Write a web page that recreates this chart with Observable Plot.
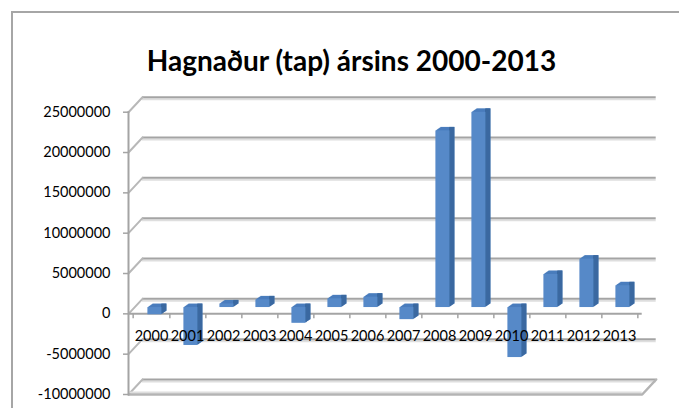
<!DOCTYPE html>
<html>
<head>
<meta charset="utf-8">
<script src="https://cdn.jsdelivr.net/npm/d3@7"></script>
<script src="https://cdn.jsdelivr.net/npm/@observablehq/plot@0.6"></script>
<style>
  html, body { margin: 0; padding: 0; background: #fff; overflow: hidden; }
  #wrap { position: relative; width: 679px; height: 408px; }
  #border { position: absolute; left: 11px; top: 11px; width: 700px; height: 430px; border: 2px solid #a6a6a6; box-sizing: border-box; }
  #chart { position: absolute; left: 0; top: 0; }
</style>
</head>
<body>
<div id="wrap"><div id="border"></div><div id="chart"></div></div>
<script>
const title = "Hagnaður (tap) ársins 2000-2013";
const years = ["2000","2001","2002","2003","2004","2005","2006","2007","2008","2009","2010","2011","2012","2013"];
const values = [-900000, -4700000, 450000, 950000, -1950000, 1080000, 1280000, -1500000, 21900000, 24200000, -6200000, 4100000, 6000000, 2700000];
const yTicks = [-10000000, -5000000, 0, 5000000, 10000000, 15000000, 20000000, 25000000];

const data = years.map((year, i) => ({year, value: values[i]}));

const W = 679, H = 408;
const mL = 128, mR = 37.3, mT = 111.7, mB = 14;
const padIn = 0.62, padOut = 0.31;
const step = (W - mL - mR) / years.length;
const bw = step * (1 - padIn);
const depthX = 14, depthY = -15;           // back wall offset
const barDx = 3.4, barDy = -6.3;            // bar front face offset
const extX = 5, extY = -3.5;                // bar extrusion
const layers = 6;

const lineShape = { draw(context, l) { context.moveTo(0, 0); context.lineTo(0, -l); } };
const diagLen = Math.hypot(depthX, depthY);
const diagRot = Math.atan2(depthX, -depthY) * 180 / Math.PI;

const gridColor = "#a4a4a4";
const front = "#5689c8", topC = "#4a7dbd", side = "#3b69a1";

const marks = [];
// back wall gridlines (with light shadow)
marks.push(Plot.ruleY(yTicks, {y: d => d, dx: depthX, dy: depthY + 2, stroke: "#dedede", strokeWidth: 2}));
marks.push(Plot.ruleY(yTicks, {y: d => d, dx: depthX, dy: depthY, stroke: gridColor, strokeWidth: 2}));
// left wall diagonals
marks.push(Plot.vector(yTicks, {y: d => d, frameAnchor: "left", length: diagLen, rotate: diagRot, anchor: "start", shape: lineShape, stroke: "#b8b8b8", strokeWidth: 2}));
// floor: front edge and right diagonal
marks.push(Plot.ruleY([yTicks[0]], {y: d => d, dy: -2, stroke: "#dedede", strokeWidth: 2}));
marks.push(Plot.ruleY([yTicks[0]], {y: d => d, stroke: "#b4b4b4", strokeWidth: 2.5}));
marks.push(Plot.vector([yTicks[0]], {y: d => d, frameAnchor: "right", length: diagLen, rotate: diagRot, anchor: "start", shape: lineShape, stroke: "#b4b4b4", strokeWidth: 2.5}));
// front vertical axis line
marks.push(Plot.frame({anchor: "left", stroke: gridColor, strokeWidth: 2}));
// y axis ticks + labels
marks.push(Plot.axisY({ticks: yTicks, label: null, tickSize: 5, tickPadding: 13, tickFormat: d => String(d), stroke: gridColor, strokeWidth: 1.5, fill: "#000", fontSize: 14.5}));
// category axis (zero line) and boundary ticks
marks.push(Plot.ruleY([0], {y: d => d, stroke: gridColor, strokeWidth: 2}));
marks.push(Plot.ruleX(years, {x: d => d, dx: step / 2, y1: 0, y2: -600000, stroke: gridColor, strokeWidth: 1.5}));
marks.push(Plot.ruleX([years[0]], {x: d => d, dx: -step / 2, y1: 0, y2: -600000, stroke: gridColor, strokeWidth: 1.5}));
// bars: extrusion (top face color), side face, front face
for (let k = layers; k >= 1; k--) {
  const f = k / layers;
  marks.push(Plot.barY(data, {x: "year", y: "value", dx: barDx + extX * f, dy: barDy + extY * f, fill: topC}));
}
for (let k = layers; k >= 1; k--) {
  const f = k / layers;
  marks.push(Plot.barY(data, {x: "year", y: "value", dx: barDx + extX * f, dy: barDy + extY * f, insetLeft: bw - extX * f, fill: side}));
}
marks.push(Plot.barY(data, {x: "year", y: "value", dx: barDx, dy: barDy, fill: front}));
// category labels
marks.push(Plot.text(years, {x: d => d, y: 0, dy: 22.5, text: d => d, fontSize: 14.5, fill: "#000"}));
// title
marks.push(Plot.text([title], {text: d => d, frameAnchor: "top", dx: 351 - (mL + (W - mR)) / 2, dy: -61.5, fontSize: 28, fontWeight: "bold", fill: "#000"}));

const chart = Plot.plot({
  width: W, height: H,
  marginLeft: mL, marginRight: mR, marginTop: mT, marginBottom: mB,
  style: {fontFamily: "Lato, 'Open Sans', sans-serif", fontSize: "14.5px", color: "#000", background: "transparent", overflow: "visible"},
  x: {domain: years, paddingInner: padIn, paddingOuter: padOut, axis: null},
  y: {domain: [yTicks[0], yTicks[yTicks.length - 1]], axis: null},
  marks
});
document.getElementById("chart").appendChild(chart);
</script>
</body>
</html>
